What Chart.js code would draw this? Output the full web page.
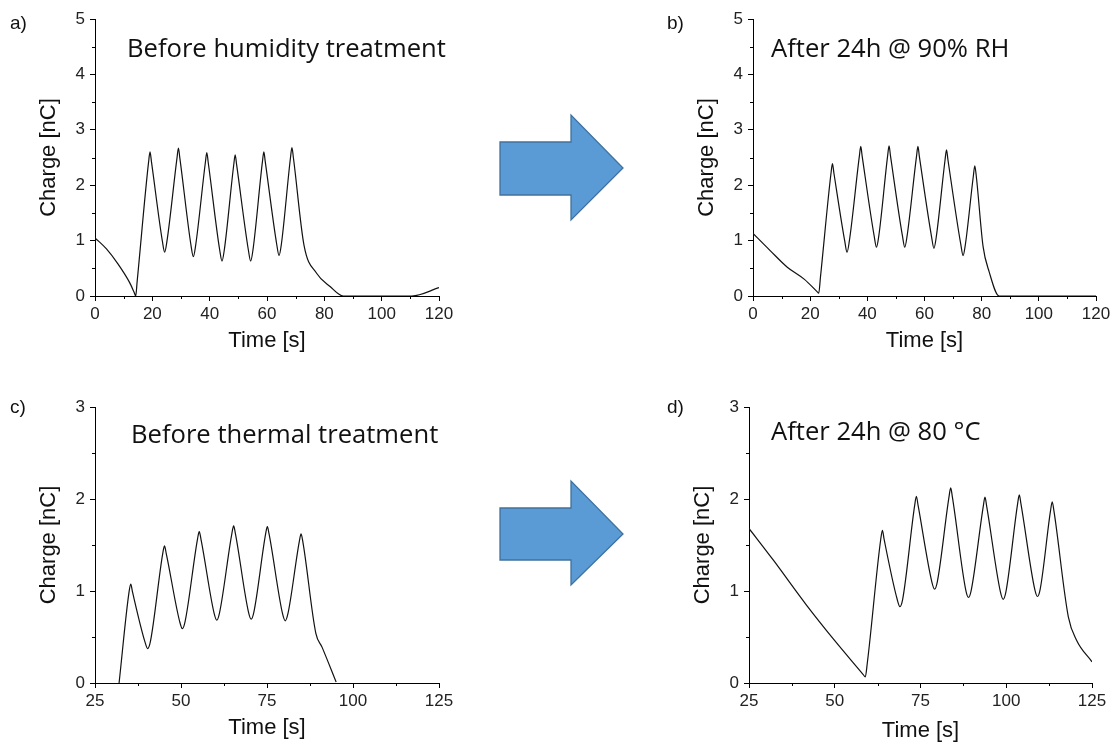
<!DOCTYPE html>
<html>
<head>
<meta charset="utf-8">
<script src="https://cdn.jsdelivr.net/npm/chart.js@4.4.1/dist/chart.umd.min.js"></script>
<style>
  body { margin: 0; background: #fff; width: 1115px; height: 744px; overflow: hidden; position: relative; }
  canvas { position: absolute; }
  svg { position: absolute; left: 0; top: 0; }
</style>
</head>
<body>
<canvas id="chartA" width="480" height="372" style="left:0px;top:0px"></canvas>
<canvas id="chartB" width="475" height="372" style="left:640px;top:0px"></canvas>
<canvas id="chartC" width="480" height="354" style="left:0px;top:390px"></canvas>
<canvas id="chartD" width="475" height="354" style="left:640px;top:390px"></canvas>

<svg width="1115" height="744">
  <polygon points="500,142 571,142 571,115 623,168 571,220 571,195 500,195" fill="#5b9bd5" stroke="#41719c" stroke-width="1.3"/>
  <polygon points="500,508 571,508 571,481 623,534 571,585 571,560 500,560" fill="#5b9bd5" stroke="#41719c" stroke-width="1.3"/>
</svg>

<script>
// a) before humidity treatment
const timeA = [0, 4, 8, 12, 13.7, 14.2, 14.7,
  18.7, 19.2, 19.7, 23.5, 24.3, 25.1,
  28.6, 29.1, 29.6, 33.5, 34.3, 35.1,
  38.5, 39.0, 39.5, 43.5, 44.3, 45.1,
  48.4, 48.9, 49.4, 53.5, 54.3, 55.1,
  58.4, 58.9, 59.4, 63.4, 64.2, 65.0,
  68.2, 68.7, 69.2, 72.9, 77.3, 82, 86.6, 110.5, 120];
const chargeA = [1.05, 0.85, 0.58, 0.25, 0.06, 0, 0.26,
  2.42, 2.6, 2.42, 0.99, 0.79, 0.99,
  2.49, 2.67, 2.49, 0.91, 0.71, 0.91,
  2.41, 2.59, 2.41, 0.83, 0.63, 0.83,
  2.37, 2.55, 2.37, 0.83, 0.63, 0.83,
  2.42, 2.6, 2.42, 0.93, 0.73, 0.93,
  2.5, 2.68, 2.5, 0.92, 0.41, 0.17, 0, 0, 0.15];

// b) after 24h @ 90% RH
const timeB = [0, 6, 12, 18, 22.4, 23.0, 23.6,
  27.3, 27.8, 28.3, 32.1, 32.9, 33.7,
  37.2, 37.7, 38.2, 42.4, 43.2, 44.0,
  47.1, 47.6, 48.1, 52.3, 53.1, 53.9,
  57.2, 57.7, 58.2, 62.5, 63.3, 64.1,
  67.2, 67.7, 68.2, 72.7, 73.5, 74.3,
  77.1, 77.6, 78.1, 80.5, 82.6, 86.1, 120];
const chargeB = [1.13, 0.82, 0.52, 0.3, 0.08, 0.05, 0.34,
  2.22, 2.39, 2.22, 0.99, 0.79, 0.99,
  2.52, 2.70, 2.52, 1.08, 0.88, 1.08,
  2.53, 2.71, 2.53, 1.08, 0.88, 1.08,
  2.52, 2.70, 2.52, 1.06, 0.86, 1.06,
  2.46, 2.64, 2.46, 0.93, 0.73, 0.93,
  2.17, 2.35, 2.17, 0.89, 0.44, 0, 0];

// c) before thermal treatment
const timeC = [32.0,
  34.9, 35.4, 35.9, 39.5, 40.3, 41.1,
  44.7, 45.2, 45.7, 49.6, 50.4, 51.2,
  54.8, 55.3, 55.8, 59.6, 60.4, 61.2,
  64.8, 65.3, 65.8, 69.6, 70.4, 71.2,
  74.6, 75.1, 75.6, 79.5, 80.3, 81.1,
  84.4, 84.9, 85.4, 89.2, 91.0, 95.1];
const chargeC = [0,
  0.99, 1.075, 0.99, 0.45, 0.374, 0.45,
  1.41, 1.49, 1.41, 0.67, 0.59, 0.67,
  1.565, 1.645, 1.565, 0.763, 0.683, 0.763,
  1.627, 1.707, 1.627, 0.774, 0.694, 0.774,
  1.62, 1.70, 1.62, 0.756, 0.676, 0.756,
  1.54, 1.62, 1.54, 0.54, 0.39, 0.01];

// d) after 24h @ 80 °C
const timeD = [25, 32, 41.7, 50, 58.3, 58.9, 59.5,
  63.4, 63.9, 64.4, 68.2, 69.0, 69.8,
  73.3, 73.8, 74.3, 78.3, 79.1, 79.9,
  83.3, 83.8, 84.3, 88.2, 89.0, 89.8,
  93.3, 93.8, 94.3, 98.3, 99.1, 99.9,
  103.3, 103.8, 104.3, 108.3, 109.1, 109.9,
  112.9, 113.4, 113.9, 118.1, 120.5, 125];
const chargeD = [1.68, 1.34, 0.85, 0.46, 0.092, 0.065, 0.22,
  1.56, 1.66, 1.56, 0.91, 0.83, 0.91,
  1.93, 2.03, 1.93, 1.10, 1.02, 1.10,
  2.02, 2.12, 2.02, 1.01, 0.93, 1.01,
  1.92, 2.02, 1.92, 0.99, 0.91, 0.99,
  1.945, 2.045, 1.945, 1.02, 0.94, 1.02,
  1.87, 1.97, 1.87, 0.72, 0.465, 0.23];

// axis ranges / ticks
const humidityX = { min: 0, max: 120, step: 20 };
const humidityY = { min: 0, max: 5, step: 1 };
const thermalX = { min: 25, max: 125, step: 25 };
const thermalY = { min: 0, max: 3, step: 1 };

const axisFont = { family: '"Liberation Sans", Arial, sans-serif', size: 22 };
const tickFont = { family: '"Liberation Sans", Arial, sans-serif', size: 17 };

// minor ticks + panel letters + notes
const extras = {
  id: 'extras',
  afterDraw(chart, args, opts) {
    const ctx = chart.ctx, area = chart.chartArea;
    const xs = chart.scales.x, ys = chart.scales.y;
    const xm = opts.xStep / 2, ym = opts.yStep / 2;
    ctx.save();
    ctx.strokeStyle = '#000';
    ctx.lineWidth = 1;
    ctx.beginPath();
    for (let v = xs.min + xm; v < xs.max; v += opts.xStep) {
      const px = Math.round(xs.getPixelForValue(v)) + 0.5;
      ctx.moveTo(px, area.bottom);
      ctx.lineTo(px, area.bottom + 3);
    }
    for (let v = ys.min + ym; v < ys.max; v += opts.yStep) {
      const py = Math.round(ys.getPixelForValue(v)) + 0.5;
      ctx.moveTo(area.left, py);
      ctx.lineTo(area.left - 3, py);
    }
    ctx.stroke();
    ctx.fillStyle = '#111';
    ctx.textBaseline = 'alphabetic';
    ctx.font = '19px "Liberation Sans", Arial, sans-serif';
    ctx.fillText(opts.panel, opts.panelAt[0], opts.panelAt[1]);
    ctx.font = '25.6px "Open Sans", Lato, sans-serif';
    ctx.fillText(opts.note, opts.noteAt[0], opts.noteAt[1]);
    ctx.restore();
  }
};

function makeChart(id, box, times, charges, xr, yr, text) {
  const w = box.w, h = box.h;
  return new Chart(document.getElementById(id), {
    type: 'line',
    data: {
      datasets: [{
        data: times.map((t, i) => ({ x: t, y: charges[i] })),
        borderColor: '#111',
        borderWidth: 1.2,
        pointRadius: 0,
        fill: false,
        cubicInterpolationMode: 'monotone'
      }]
    },
    options: {
      responsive: false,
      animation: false,
      layout: { padding: { left: 0, right: w - box.r, top: box.t, bottom: 0 } },
      plugins: {
        legend: { display: false },
        tooltip: { enabled: false },
        extras: {
          xStep: xr.step, yStep: yr.step,
          panel: text.panel, panelAt: text.panelAt,
          note: text.note, noteAt: text.noteAt
        }
      },
      scales: {
        x: {
          type: 'linear',
          min: xr.min, max: xr.max,
          ticks: { stepSize: xr.step, font: tickFont, color: '#222', padding: 3, maxRotation: 0 },
          grid: { drawOnChartArea: false, drawTicks: true, tickLength: 5, color: '#000' },
          border: { display: true, color: '#000', width: 1 },
          title: { display: true, text: 'Time [s]', font: axisFont, color: '#111', padding: { top: 0, bottom: box.xtPad } },
          afterFit: (s) => { s.height = h - box.b; }
        },
        y: {
          min: yr.min, max: yr.max,
          ticks: { stepSize: yr.step, font: tickFont, color: '#222', padding: 5 },
          grid: { drawOnChartArea: false, drawTicks: true, tickLength: 5, color: '#000' },
          border: { display: true, color: '#000', width: 1 },
          title: { display: true, text: 'Charge [nC]', font: axisFont, color: '#111', padding: { top: box.l - 46 - 13.2, bottom: 0 } },
          afterFit: (s) => { s.width = box.l; }
        }
      }
    },
    plugins: [extras]
  });
}

makeChart('chartA', { w: 480, h: 372, l: 95, r: 439, t: 19, b: 296, xtPad: 18 }, timeA, chargeA, humidityX, humidityY,
  { panel: 'a)', panelAt: [10, 29], note: 'Before humidity treatment', noteAt: [127, 57] });
makeChart('chartB', { w: 475, h: 372, l: 113, r: 456, t: 19, b: 296, xtPad: 18 }, timeB, chargeB, humidityX, humidityY,
  { panel: 'b)', panelAt: [27, 29], note: 'After 24h @ 90% RH', noteAt: [131, 57] });
makeChart('chartC', { w: 480, h: 354, l: 95, r: 439, t: 17, b: 293, xtPad: 3 }, timeC, chargeC, thermalX, thermalY,
  { panel: 'c)', panelAt: [10, 23], note: 'Before thermal treatment', noteAt: [131, 53] });
makeChart('chartD', { w: 475, h: 354, l: 109, r: 452, t: 17, b: 293, xtPad: 0 }, timeD, chargeD, thermalX, thermalY,
  { panel: 'd)', panelAt: [27, 23], note: 'After 24h @ 80 °C', noteAt: [131, 50] });
</script>
</body>
</html>
